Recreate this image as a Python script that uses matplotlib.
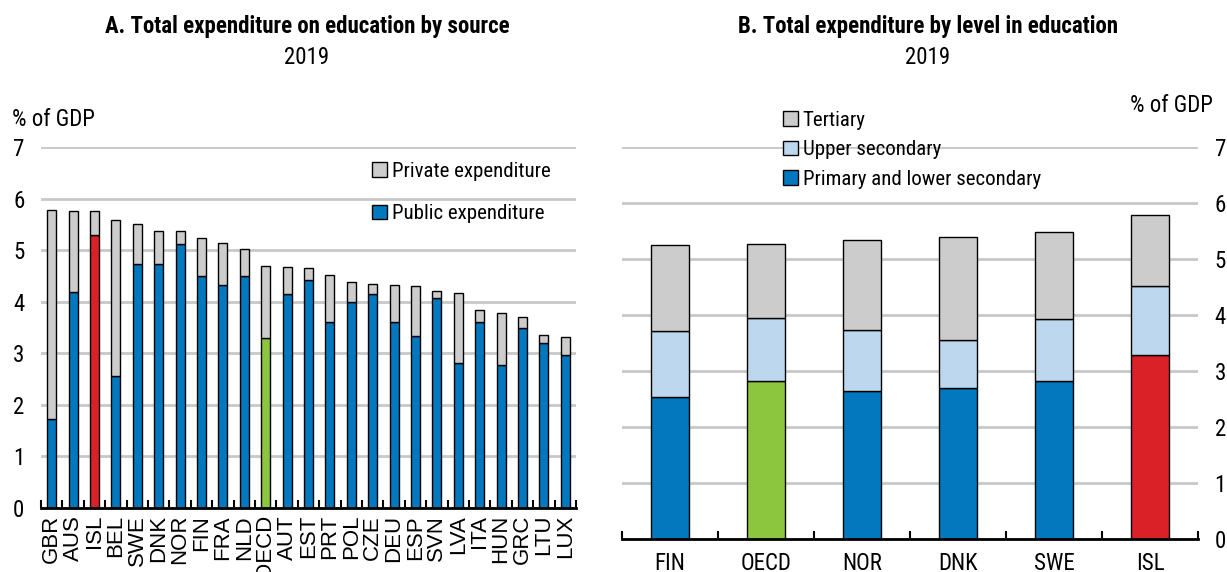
import numpy as np
import matplotlib
matplotlib.use('Agg')
import matplotlib.pyplot as plt
import matplotlib.font_manager as fm
from matplotlib.patches import Patch

# the original uses Arial Narrow; pick a narrow face if one is installed
names = {f.name for f in fm.fontManager.ttflist}
narrow = next((n for n in ['Liberation Sans Narrow', 'Arial Narrow', 'Roboto Condensed'] if n in names), None)
if narrow:
    plt.rcParams['font.family'] = [narrow, 'Liberation Sans', 'DejaVu Sans']
    FS, TFS, LFS = 16.5, 16.5, 15
else:
    plt.rcParams['font.family'] = ['Liberation Sans', 'DejaVu Sans']
    FS, TFS, LFS = 14, 14.5, 13

# Panel A data: total expenditure on education by source, % of GDP, 2019
countries_a = ['GBR', 'AUS', 'ISL', 'BEL', 'SWE', 'DNK', 'NOR', 'FIN', 'FRA', 'NLD', 'OECD', 'AUT', 'EST',
               'PRT', 'POL', 'CZE', 'DEU', 'ESP', 'SVN', 'LVA', 'ITA', 'HUN', 'GRC', 'LTU', 'LUX']
public_a = [1.73, 4.18, 5.29, 2.55, 4.73, 4.74, 5.11, 4.49, 4.32, 4.49, 3.30, 4.14, 4.43,
            3.60, 3.99, 4.14, 3.60, 3.33, 4.08, 2.82, 3.60, 2.77, 3.50, 3.20, 2.97]
total_a = [5.77, 5.75, 5.75, 5.58, 5.50, 5.38, 5.38, 5.23, 5.14, 5.03, 4.70, 4.67, 4.66,
           4.51, 4.38, 4.34, 4.32, 4.30, 4.21, 4.16, 3.83, 3.78, 3.70, 3.36, 3.31]

# Panel B data: expenditure by level of education, % of GDP, 2019
countries_b = ['FIN', 'OECD', 'NOR', 'DNK', 'SWE', 'ISL']
primary_b = [2.54, 2.82, 2.64, 2.69, 2.82, 3.29]
upper_b = [1.18, 1.13, 1.09, 0.86, 1.10, 1.23]
tertiary_b = [1.53, 1.32, 1.61, 1.85, 1.57, 1.27]

BLUE = '#0378BE'
RED = '#DA2128'
GREEN = '#8CC63F'
GREY = '#CCCCCC'
LIGHTBLUE = '#BDD7EE'
GRID = '#C8C8C8'

W, H = 1227, 572
fig = plt.figure(figsize=(W / 100, H / 100), dpi=100)


def px_axes(x0, x1, y0, y1):
    # y0 = pixel row of value 0, y1 = pixel row of value 7
    return fig.add_axes([x0 / W, (H - y0) / H, (x1 - x0) / W, (y0 - y1) / H])


def bar_color(name):
    if name == 'ISL':
        return RED
    if name == 'OECD':
        return GREEN
    return BLUE


def style_axes(ax, n):
    ax.set_ylim(0, 7)
    ax.set_xlim(-0.5, n - 0.5)
    ax.set_yticks(range(0, 8))
    ax.yaxis.grid(True, color=GRID, linewidth=2)
    ax.set_axisbelow(True)
    for s in ['top', 'left', 'right']:
        ax.spines[s].set_visible(False)
    ax.spines['bottom'].set_linewidth(2)
    ax.set_xticks(np.arange(-0.5, n, 1), minor=True)
    ax.tick_params(axis='x', which='minor', direction='in', length=6, width=1.5)
    ax.tick_params(axis='x', which='major', length=0, labelsize=FS)
    ax.tick_params(axis='y', length=0, labelsize=FS)


def legend_px(ax, handles, labels, x, y, spacing):
    return ax.legend(handles, labels, loc='upper left', bbox_to_anchor=(x / W, 1 - y / H),
                     bbox_transform=fig.transFigure, frameon=False, fontsize=LFS,
                     handlelength=0.7, handleheight=0.7, handletextpad=0.25,
                     labelspacing=spacing, borderaxespad=0, borderpad=0)


# ---- Panel A ----
axA = px_axes(41, 576, 508, 147)
xa = np.arange(len(countries_a))
private_a = np.array(total_a) - np.array(public_a)
axA.bar(xa, public_a, width=0.42, color=[bar_color(c) for c in countries_a], edgecolor='black', linewidth=1)
axA.bar(xa, private_a, bottom=public_a, width=0.42, color=GREY, edgecolor='black', linewidth=1)
style_axes(axA, len(countries_a))
axA.set_xticks(xa)
axA.set_xticklabels(countries_a, rotation=90, family=['Liberation Sans', 'DejaVu Sans'], fontsize=16)
axA.tick_params(axis='x', which='major', pad=5)
axA.tick_params(axis='y', pad=20)
for lab in axA.get_yticklabels():
    lab.set_horizontalalignment('left')
fig.text(12 / W, 1 - 120 / H, '% of GDP', fontsize=FS, va='center', ha='left')

legend_px(axA, [Patch(facecolor=GREY, edgecolor='black'), Patch(facecolor=BLUE, edgecolor='black')],
          ['Private expenditure', 'Public expenditure'], 372, 162, 1.12)

fig.text(307 / W, 1 - 27 / H, 'A. Total expenditure on education by source', fontsize=TFS,
         fontweight='bold', ha='center', va='center')
fig.text(307 / W, 1 - 58 / H, '2019', fontsize=TFS, ha='center', va='center')

# ---- Panel B ----
axB = px_axes(622, 1198, 539, 147)
xb = np.arange(len(countries_b))
lower2 = np.array(primary_b) + np.array(upper_b)
axB.bar(xb, primary_b, width=0.4, color=[bar_color(c) for c in countries_b], edgecolor='black', linewidth=1)
axB.bar(xb, upper_b, bottom=primary_b, width=0.4, color=LIGHTBLUE, edgecolor='black', linewidth=1)
axB.bar(xb, tertiary_b, bottom=lower2, width=0.4, color=GREY, edgecolor='black', linewidth=1)
style_axes(axB, len(countries_b))
axB.set_xticks(xb)
axB.set_xticklabels(countries_b)
axB.yaxis.tick_right()
axB.tick_params(axis='y', pad=12)
axB.tick_params(axis='x', which='major', pad=9)
fig.text(1213 / W, 1 - 105 / H, '% of GDP', fontsize=FS, va='center', ha='right')

legend_px(axB, [Patch(facecolor=GREY, edgecolor='black'), Patch(facecolor=LIGHTBLUE, edgecolor='black'),
                Patch(facecolor=BLUE, edgecolor='black')],
          ['Tertiary', 'Upper secondary', 'Primary and lower secondary'], 783, 111, 0.5)

fig.text(928 / W, 1 - 27 / H, 'B. Total expenditure by level in education', fontsize=TFS,
         fontweight='bold', ha='center', va='center')
fig.text(928 / W, 1 - 58 / H, '2019', fontsize=TFS, ha='center', va='center')

fig.savefig('out.png', dpi=100)
